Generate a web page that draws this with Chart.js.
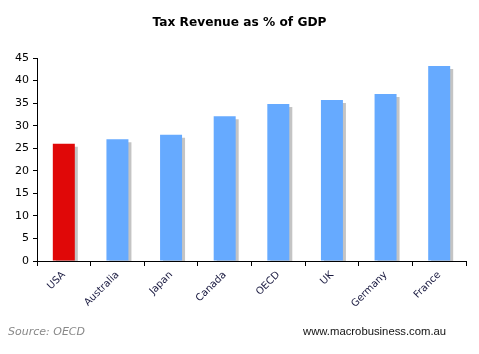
<!DOCTYPE html>
<html>
<head>
<meta charset="utf-8">
<script src="https://cdn.jsdelivr.net/npm/chart.js@4/dist/chart.umd.min.js"></script>
<style>
  html, body { margin: 0; padding: 0; background: #fff; }
  #wrap { position: relative; width: 479px; height: 354px; }
  #title { position: absolute; top: 15px; left: 0; width: 479px; text-align: center;
           font: bold 12.2px "DejaVu Sans", Verdana, sans-serif; color: #000; }
  .foot { position: absolute; top: 325px; font-size: 11px; }
  #src { left: 8px; color: #888; font-family: "DejaVu Sans", sans-serif; font-style: italic; }
  #site { left: 303px; color: #111; font-family: "Liberation Sans", Arial, sans-serif; font-size: 11.3px; }
</style>
</head>
<body>
<div id="wrap">
  <canvas id="c" width="479" height="354"></canvas>
  <div id="title">Tax Revenue as % of GDP</div>
  <div class="foot" id="src">Source: OECD</div>
  <div class="foot" id="site">www.macrobusiness.com.au</div>
</div>
<script>
// Tax revenue as % of GDP
const countries = ['USA', 'Australia', 'Japan', 'Canada', 'OECD', 'UK', 'Germany', 'France'];
const taxShare = [26.0, 27.0, 28.0, 32.1, 34.8, 35.7, 37.0, 43.2];
const yTicks = [0, 5, 10, 15, 20, 25, 30, 35, 40, 45];

const barColors = countries.map(c => c === 'USA' ? '#e00808' : '#66aaff');

// grey drop shadow to the right of each bar
const barShadow = {
  id: 'barShadow',
  beforeDatasetDraw(chart) {
    const ctx = chart.ctx;
    ctx.save();
    ctx.shadowColor = '#c4c4c4';
    ctx.shadowOffsetX = 3;
    ctx.shadowOffsetY = 3;
    ctx.shadowBlur = 0;
  },
  afterDatasetDraw(chart) {
    chart.ctx.restore();
  }
};

const font = 'DejaVu Sans, Verdana, sans-serif';

new Chart(document.getElementById('c').getContext('2d'), {
  type: 'bar',
  data: {
    labels: countries,
    datasets: [{
      data: taxShare,
      backgroundColor: barColors,
      borderWidth: 0,
      barPercentage: 0.82,
      categoryPercentage: 0.5
    }]
  },
  options: {
    responsive: false,
    animation: false,
    layout: { padding: { left: 0, right: 13, top: 58, bottom: 0 } },
    scales: {
      x: {
        grid: { drawOnChartArea: false, color: '#000', tickLength: 5, offset: true },
        border: { color: '#000', width: 1 },
        ticks: {
          color: '#1a1a40',
          font: { family: font, size: 10 },
          minRotation: 45,
          maxRotation: 45,
          padding: 3
        },
        afterFit(scale) { scale.height = 93; }
      },
      y: {
        min: 0,
        max: 45,
        afterBuildTicks(scale) { scale.ticks = yTicks.map(v => ({ value: v })); },
        grid: { drawOnChartArea: false, color: '#000', tickLength: 4 },
        border: { color: '#000', width: 1 },
        ticks: {
          color: '#000',
          font: { family: font, size: 11 },
          padding: 4
        },
        afterFit(scale) { scale.width = 37; }
      }
    },
    plugins: {
      legend: { display: false },
      tooltip: { enabled: false },
      title: { display: false }
    }
  },
  plugins: [barShadow]
});
</script>
</body>
</html>
